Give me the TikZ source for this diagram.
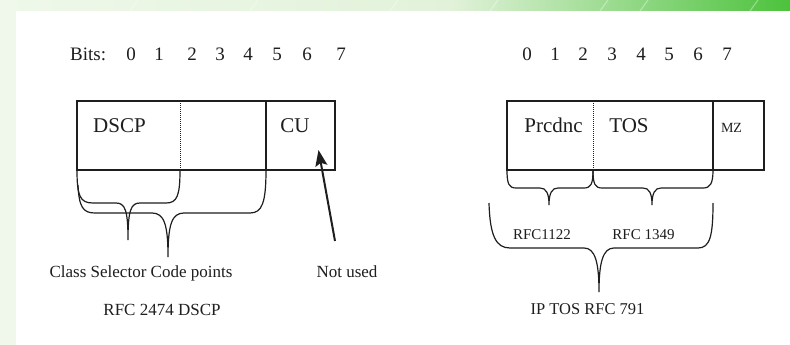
\documentclass[tikz,border=0pt]{standalone}
\usepackage{fontspec}
\setmainfont{Liberation Serif}
\usetikzlibrary{arrows.meta}
\definecolor{ink}{HTML}{1E1E1E}
\definecolor{bgl}{HTML}{EFF8EA}
\definecolor{bgm}{HTML}{E2F2DA}
\definecolor{bgr}{HTML}{4CC23C}
\tikzset{
  lbl/.style={inner sep=0pt, anchor=base, text=ink},
  big/.style={lbl, font=\fontsize{21}{21}\selectfont},
  bits/.style={lbl, font=\fontsize{19}{19}\selectfont},
  mid/.style={lbl, font=\fontsize{17}{17}\selectfont},
  sml/.style={lbl, font=\fontsize{15}{15}\selectfont},
  frame/.style={draw=ink, line width=1.2pt},
  brace/.style={draw=ink, line width=1.2pt},
  sep/.style={draw=ink, line width=1pt, densely dotted},
  pointer/.style={draw=ink, line width=2pt, -{Stealth[length=16pt,width=12pt,inset=3pt]}}
}
\begin{document}
\begin{tikzpicture}[x=1pt,y=-1pt]
\useasboundingbox (0,0) rectangle (790,345);
% background
\fill[bgl] (0,0) rectangle (790,345);
\shade[left color=bgl, right color=bgm] (0,0) rectangle (450,11);
\shade[left color=bgm, right color=bgr] (450,0) rectangle (790,11);
\fill[white] (16,11) rectangle (790,345);
\foreach \xx in {130,250,390,490,600,640,750}{
  \draw[white, opacity=0.35, line width=1.2pt] (\xx,11) -- (\xx+8,0);
}

% ---------- left: DSCP ----------
\node[bits, anchor=base west] (bitsl) at (70,60) {Bits:};
\foreach \d/\xx in {0/131,1/159,2/192,3/220,4/248,5/277,6/307,7/341}{
  \node[bits] (l\d) at (\xx,60) {\d};
}
\draw[frame] (77,101) rectangle (335,170);
\draw[sep] (180,101) -- (180,170);
\draw[frame] (266,101) -- (266,170);
\node[big] (dscp) at (119.5,132) {DSCP};
\node[big] (cu) at (295,132) {CU};

% small brace (bits 0-1)
\draw[brace] (77,170) .. controls (77,196) and (80,203) .. (93,203) -- (116,203)
  .. controls (125,203) and (128,210) .. (128,240)
  .. controls (128,210) and (131,203) .. (140,203) -- (166,203)
  .. controls (177,203) and (180,196) .. (180,170);
% big brace (bits 0-5)
\draw[brace] (78,185) .. controls (79,207) and (83,213) .. (95,213) -- (152,213)
  .. controls (164,213) and (168,224) .. (168,257)
  .. controls (168,224) and (172,213) .. (184,213) -- (250,213)
  .. controls (262,213) and (266,203) .. (266,170);

\node[mid] (csc) at (141,277) {Class Selector Code points};
\node[mid] (nu) at (347,277) {Not used};
\node[mid] (rfc2474) at (162,315) {RFC 2474 DSCP};
\coordinate (nutop) at (335,241);
\coordinate (cutip) at (318.5,150);
\draw[pointer] (nutop) -- (cutip);

% ---------- right: IP TOS ----------
\foreach \d/\xx in {0/527,1/555,2/583,3/612,4/641,5/669,6/698,7/727}{
  \node[bits] (r\d) at (\xx,60) {\d};
}
\draw[frame] (507,101) rectangle (764,170);
\draw[sep] (593,101) -- (593,170);
\draw[frame] (713,101) -- (713,170);
\node[big] (prc) at (553.5,132) {Prcdnc};
\node[big] (tos) at (629,132) {TOS};
\node[lbl, font=\fontsize{14}{14}\selectfont] (mz) at (731.5,132) {MZ};

% small braces
\draw[brace] (507,170) .. controls (507,184) and (509,188) .. (516,188) -- (540,188)
  .. controls (546,188) and (549,193) .. (549,205)
  .. controls (549,193) and (552,188) .. (558,188) -- (584,188)
  .. controls (591,188) and (593,184) .. (593,170);
\draw[brace] (593,170) .. controls (593,184) and (595,188) .. (602,188) -- (643,188)
  .. controls (649,188) and (652,193) .. (652,205)
  .. controls (652,193) and (655,188) .. (661,188) -- (703,188)
  .. controls (710,188) and (713,184) .. (713,170);
% big brace
\draw[brace] (489,203) .. controls (490,236) and (496,248) .. (510,248) -- (584,248)
  .. controls (595,248) and (599,262) .. (599,292)
  .. controls (599,262) and (603,248) .. (614,248) -- (698,248)
  .. controls (710,248) and (713,236) .. (713,203);

\node[sml] (rfc1122) at (542,239) {RFC1122};
\node[sml] (rfc1349) at (643.5,239) {RFC 1349};
\node[lbl, font=\fontsize{16.5}{16.5}\selectfont] (iptos) at (587.5,314) {IP TOS RFC 791};
\end{tikzpicture}
\end{document}
